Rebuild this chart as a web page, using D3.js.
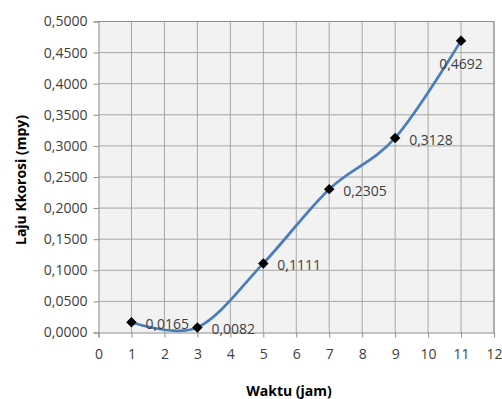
<!DOCTYPE html>
<html><head><meta charset="utf-8">
<script src="https://cdn.jsdelivr.net/npm/d3@7"></script>
<style>body{margin:0;background:#fff;} svg{display:block;}</style>
</head><body>
<svg id="c" width="502" height="399"></svg>
<script>
const xValues = [1, 3, 5, 7, 9, 11];
const yValues = [0.0165, 0.0082, 0.1111, 0.2305, 0.3128, 0.4692];
const pointLabels = ["0,0165", "0,0082", "0,1111", "0,2305", "0,3128", "0,4692"];
const xTicks = d3.range(0, 13, 1);
const yTicks = d3.range(0, 0.5001, 0.05);
const xTitle = "Waktu (jam)";
const yTitle = "Laju Kkorosi (mpy)";

const svg = d3.select("#c");
const m = {l: 98.5, t: 21.5, r: 494, b: 332.5};
const x = d3.scaleLinear().domain([0, 12]).range([m.l, m.r]);
const y = d3.scaleLinear().domain([0, 0.5]).range([m.b, m.t]);
const font = "'Open Sans', sans-serif";
const txt = "#404040";

svg.append("rect").attr("x", m.l).attr("y", m.t).attr("width", m.r - m.l).attr("height", m.b - m.t).attr("fill", "#f2f2f2");

const g = svg.append("g");
g.selectAll(".vg").data(xTicks.slice(1)).join("line")
  .attr("x1", d => x(d)).attr("x2", d => x(d)).attr("y1", m.t).attr("y2", m.b)
  .attr("stroke", "#a6a6a6").attr("stroke-width", 1);
g.selectAll(".hg").data(yTicks.slice(1)).join("line")
  .attr("y1", d => y(d)).attr("y2", d => y(d)).attr("x1", m.l).attr("x2", m.r)
  .attr("stroke", "#a6a6a6").attr("stroke-width", 1);

const yAxis = d3.axisLeft(y).tickValues(yTicks).tickSize(5).tickPadding(6)
  .tickFormat(d => d3.format(".4f")(d).replace(".", ","));
const ya = svg.append("g").attr("transform", `translate(${m.l},0)`).call(yAxis);
ya.select(".domain").attr("stroke", "#8c8c8c");
ya.selectAll(".tick line").attr("stroke", "#8c8c8c");
ya.selectAll("text").attr("font-family", font).attr("font-size", 14).attr("fill", txt);

const xAxis = d3.axisBottom(x).tickValues(xTicks).tickSize(5).tickPadding(12);
const xa = svg.append("g").attr("transform", `translate(0,${m.b})`).call(xAxis);
xa.select(".domain").attr("stroke", "#8c8c8c");
xa.selectAll(".tick line").attr("stroke", "#8c8c8c");
xa.selectAll("text").attr("font-family", font).attr("font-size", 14).attr("fill", txt);

// top/right border
svg.append("line").attr("x1", m.l).attr("x2", m.r).attr("y1", m.t).attr("y2", m.t).attr("stroke", "#8c8c8c");
svg.append("line").attr("x1", m.r).attr("x2", m.r).attr("y1", m.t).attr("y2", m.b).attr("stroke", "#8c8c8c");

const data = xValues.map((d, i) => ({x: d, y: yValues[i], label: pointLabels[i]}));
const line = d3.line().x(d => x(d.x)).y(d => y(d.y)).curve(d3.curveCatmullRom.alpha(0));
svg.append("path").datum(data).attr("d", line).attr("fill", "none")
  .attr("stroke", "#4a7ebb").attr("stroke-width", 2.75).attr("stroke-linecap", "round");

svg.selectAll(".pt").data(data).join("path")
  .attr("d", d3.symbol().type(d3.symbolDiamond2).size(70))
  .attr("transform", d => `translate(${x(d.x)},${y(d.y)})`).attr("fill", "#000");

svg.selectAll(".lbl").data(data).join("text")
  .attr("x", (d, i) => i === data.length - 1 ? x(d.x) : x(d.x) + 14)
  .attr("y", (d, i) => i === data.length - 1 ? y(d.y) + 28 : y(d.y) + 7)
  .attr("text-anchor", (d, i) => i === data.length - 1 ? "middle" : "start")
  .attr("font-family", font).attr("font-size", 14).attr("fill", txt)
  .text(d => d.label);

svg.append("text").attr("x", 289).attr("y", 396).attr("text-anchor", "middle")
  .attr("font-family", font).attr("font-size", 14).attr("font-weight", "bold").attr("fill", "#000").text(xTitle);
svg.append("text").attr("transform", "translate(26,180) rotate(-90)").attr("text-anchor", "middle")
  .attr("font-family", font).attr("font-size", 14).attr("font-weight", "bold").attr("fill", "#000").text(yTitle);
</script>
</body></html>
